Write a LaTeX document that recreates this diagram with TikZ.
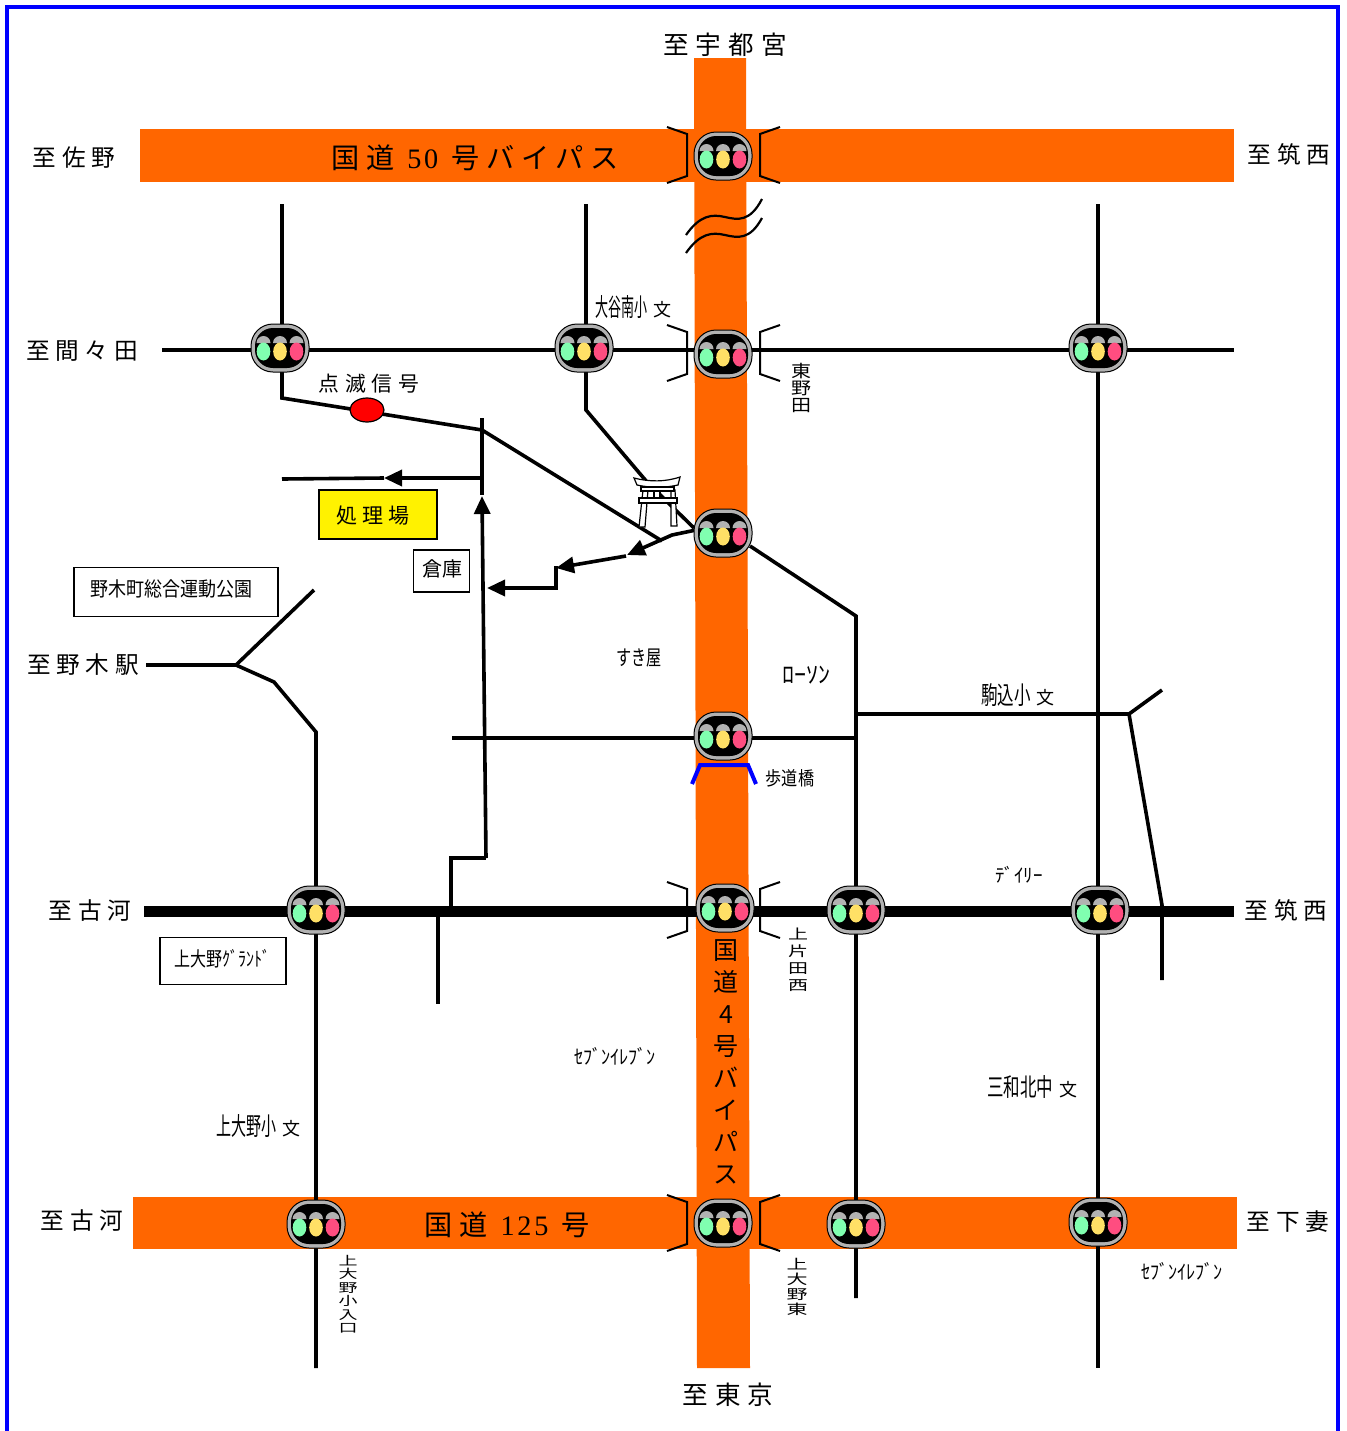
\documentclass[tikz,border=0pt]{standalone}
\usepackage{graphicx}
\usepackage{fontspec}
\usetikzlibrary{arrows.meta}
\setmainfont{Liberation Serif}
\newfontfamily\cjk{Noto Sans CJK JP}
\newfontfamily\cjks{Noto Sans CJK JP}[LetterSpace=24]
\newfontfamily\cjkw{Noto Sans CJK JP}[LetterSpace=28]
\newfontfamily\digs{Liberation Serif}[LetterSpace=10]
\newcommand{\sx}[2]{\scalebox{#1}[1]{#2}}
\newcommand{\sy}[2]{\scalebox{1}[#1]{#2}}
\newcommand{\fsz}[1]{\fontsize{#1}{#1}\selectfont}
\definecolor{roadc}{HTML}{FF6600}
\definecolor{sigg}{HTML}{B2B2B2}
\definecolor{lampg}{HTML}{80FFB0}
\definecolor{lampy}{HTML}{FFE066}
\definecolor{lampr}{HTML}{FF4D80}
\tikzset{
  x=0.5pt,y=-0.5pt,
  road/.style={fill=roadc,draw=none},
  ln/.style={draw=black,line width=1.8pt,line join=miter},
  thickln/.style={draw=black,line width=5.5pt},
  brk/.style={draw=black,line width=1pt},
  ar/.style={ln,-{Triangle[length=9pt,width=8pt]}},
  big/.style={inner sep=0pt,font=\cjks\fontsize{11.8}{15}\selectfont,text=black},
  bigw/.style={inner sep=0pt,font=\cjkw\fontsize{12.8}{15}\selectfont,text=black},
  mid/.style={inner sep=0pt,font=\cjk\fontsize{9}{11}\selectfont,text=black},
  smalltxt/.style={inner sep=0pt,font=\cjk\fontsize{9.5}{10.5}\selectfont,text=black},
  vert/.style={inner sep=0pt,align=center,font=\cjk\fontsize{10}{8.7}\selectfont,text=black},
  boxn/.style={draw=black,line width=0.8pt,fill=white,inner sep=0pt},
  boxt/.style={inner sep=0pt,font=\cjk\fontsize{10}{11}\selectfont,text=black},
  sig/.pic={
    \draw[fill=sigg,draw=black,line width=0.5pt,rounded corners=11pt] (-29,-24) rectangle (29,24);
    \fill[black,rounded corners=9pt] (-25,-20) rectangle (25,20);
    \foreach \cx/\col in {-16.5/lampg,0/lampy,16.5/lampr}{
      \fill[sigg] (\cx-7,-5) arc[start angle=180,end angle=360,radius=7] -- cycle;
      \fill[\col] (\cx,3.5) ellipse[x radius=6.8,y radius=9];
    }
  },
}
\begin{document}
\begin{tikzpicture}
\useasboundingbox (0,0) rectangle (1346,1431);
\fill[white] (0,0) rectangle (1346,1431);
% frame
\draw[blue,line width=2pt] (7,1431) -- (7,7) -- (1338,7) -- (1338,1431);
% orange roads
\fill[road] (694,58) -- (746,58) -- (750,1368) -- (697,1368) -- cycle;
\fill[road] (140,129) rectangle (1234,182);
\fill[road] (133,1197) rectangle (1237,1249);
% wavy lines
\draw[ln,line width=1.1pt] (686,235) .. controls (700,215) and (712,214) .. (725,217) .. controls (738,220) and (750,222) .. (762,199);
\draw[ln,line width=1.1pt] (686,253) .. controls (700,233) and (712,232) .. (725,235) .. controls (738,238) and (750,240) .. (762,218);
% thin roads
\draw[ln] (162,350) -- (1234,350);
\draw[ln] (282,204) -- (282,398) -- (482,430);
\draw[ln] (586,204) -- (586,410) -- (647,482) -- (694,528);
\draw[ln] (482,430) -- (662,541);
\draw[ln] (482,418) -- (482,495);
\draw[ar] (482,478) -- (384,478);
\draw[ln] (384,478) -- (282,479);
\draw[ar] (486,858) -- (482,496);
\draw[ln] (451,911) -- (451,858) -- (486,858);
\draw[ln] (438,911) -- (438,1004);
\draw[ar] (696,530) -- (672,535) -- (627,555);
\draw[ar] (626,556) -- (556,568);
\draw[ar] (556,566) -- (556,588) -- (487,588);
\draw[ln] (750,546) -- (856,616) -- (856,1298);
\draw[ln] (452,738) -- (856,738);
\draw[ln] (856,714) -- (1129,714) -- (1162,690);
\draw[ln] (1129,714) -- (1162,905) -- (1162,980);
\draw[ln] (1098,204) -- (1098,1368);
\draw[ln] (146,665) -- (236,665) -- (314,590);
\draw[ln] (236,665) -- (274,682) -- (316,732) -- (316,1368);
\draw[thickln] (144,911) -- (1234,911);
% brackets
\foreach \cx/\cy in {723/155,723/353,723/910,723/1223}{
  \draw[brk] (\cx-56,\cy-28) -- (\cx-36,\cy-21) -- (\cx-36,\cy+21) -- (\cx-56,\cy+28);
  \draw[brk] (\cx+57,\cy-28) -- (\cx+37,\cy-21) -- (\cx+37,\cy+21) -- (\cx+57,\cy+28);
}
% blue footbridge
\draw[blue,line width=2pt] (692,784) -- (700,765) -- (748,765) -- (756,784);
% blinking signal
\fill[red,draw=black,line width=0.6pt] (367,410) ellipse[x radius=17,y radius=12];
% torii
\begin{scope}[draw=black,fill=white,line width=0.6pt]
  \filldraw (643,490) -- (648,490) -- (645,527) -- (639,527) -- cycle;
  \filldraw (671,490) -- (675,490) -- (677,526) -- (671,526) -- cycle;
  \filldraw (639,498) rectangle (677,503);
  \filldraw (654,491) rectangle (660,498);
  \filldraw (634,478) .. controls (650,482) and (665,482) .. (680,477) -- (678,485) .. controls (665,488) and (650,488) .. (637,485) -- cycle;
  \filldraw (641,487) rectangle (674,491);
\end{scope}
% signals
\foreach \cx/\cy in {723/156,280/348,584/348,723/354,1098/348,723/533,723/736,316/910,725/908,856/910,1100/910,316/1224,723/1223,856/1224,1098/1222}{
  \pic at (\cx,\cy) {sig};
}
% boxes
\node[boxn,fill=yellow,minimum width=59pt,minimum height=24.5pt,line width=1pt] (plant) at (377.5,514) {};
\node[boxt,font=\cjks\fontsize{10.5}{12}\selectfont] (plantt) at (373,516) {処理場};
\node[boxn,minimum width=28pt,minimum height=21pt] (store) at (441.5,571) {};
\node[boxt] (storet) at (442,569) {倉庫};
\node[boxn,minimum width=102pt,minimum height=24.5pt] (park) at (176,592) {};
\node[boxt] (parkt) at (171,589) {\sx{0.9}{野木町総合運動公園}};
\node[boxn,minimum width=63pt,minimum height=23.5pt] (ground) at (223,961) {};
\node[boxt] (groundt) at (222,959) {\sx{0.8}{上大野ｸﾞﾗﾝﾄﾞ}};
% big labels
\node[bigw] (n1) at (725,45) {至宇都宮};
\node[big] (n2) at (74,158) {至佐野};
\node[big] (n3) at (1289,154) {至筑西};
\node[big] (n4) at (82,351) {至間々田};
\node[big] (n5) at (83,665) {至野木駅};
\node[big] (n6) at (90,911) {至古河};
\node[big] (n7) at (1286,910) {至筑西};
\node[big] (n8) at (82,1221) {至古河};
\node[big] (n9) at (1288,1222) {至下妻};
\node[bigw] (n10) at (728,1395) {至東京};
\node[big,font=\cjks\fontsize{14.1}{16}\selectfont] (r50) at (475,158) {国道 {\digs 50} 号バイパス};
\node[big,font=\cjks\fontsize{14.1}{16}\selectfont] (r125) at (507,1225) {国道 {\digs 125} 号};
% road 4 vertical
\node[inner sep=0pt,align=center,font=\cjk\fontsize{12.5}{16}\selectfont] (r4) at (726,1062) {国\\道\\4\\号\\バ\\イ\\パ\\ス};
% small labels
\node[mid] (a1) at (633,307) {\sx{0.52}{\fsz{12.5}大谷南小}\hspace{3pt}文};
\node[mid,font=\cjkw\fontsize{10.4}{11}\selectfont] (a2) at (369,384) {点滅信号};
\node[vert] (a3) at (801,388) {\sy{0.85}{東}\\\sy{0.85}{野}\\\sy{0.85}{田}};
\node[smalltxt] (a4) at (639,658) {\sx{0.72}{\fsz{10.5}すき屋}};
\node[smalltxt] (a5) at (806,675) {\fsz{12}ﾛｰｿﾝ};
\node[mid] (a6) at (1018,695) {\sx{0.66}{\fsz{12.5}駒込小}\hspace{3pt}文};
\node[smalltxt] (a7) at (790,778) {\sx{0.85}{歩道橋}};
\node[smalltxt] (a8) at (1019,875) {ﾃﾞｲﾘｰ};
\node[vert,font=\cjk\fontsize{10}{8.5}\selectfont] (a9) at (798,960) {\sy{0.7}{上}\\\sy{0.7}{片}\\\sy{0.7}{田}\\\sy{0.7}{西}};
\node[smalltxt] (a10) at (615,1056) {\sx{0.91}{\fsz{10}ｾﾌﾞﾝｲﾚﾌﾞﾝ}};
\node[mid] (a11) at (1032,1087) {\sx{0.66}{\fsz{12.5}三和北中}\hspace{3pt}文};
\node[mid] (a12) at (258,1126) {\sx{0.6}{\fsz{12.5}上大野小}\hspace{3pt}文};
\node[vert,font=\cjk\fontsize{9.5}{6.75}\selectfont] (a13) at (348,1294) {\sy{0.65}{上}\\\sy{0.65}{大}\\\sy{0.65}{野}\\\sy{0.65}{小}\\\sy{0.65}{入}\\\sy{0.65}{口}};
\node[vert,font=\cjk\fontsize{10.5}{7.5}\selectfont] (a14) at (797,1287) {\sy{0.65}{上}\\\sy{0.65}{大}\\\sy{0.65}{野}\\\sy{0.65}{東}};
\node[smalltxt] (a15) at (1182,1271) {\sx{0.91}{\fsz{10}ｾﾌﾞﾝｲﾚﾌﾞﾝ}};
\end{tikzpicture}
\end{document}
